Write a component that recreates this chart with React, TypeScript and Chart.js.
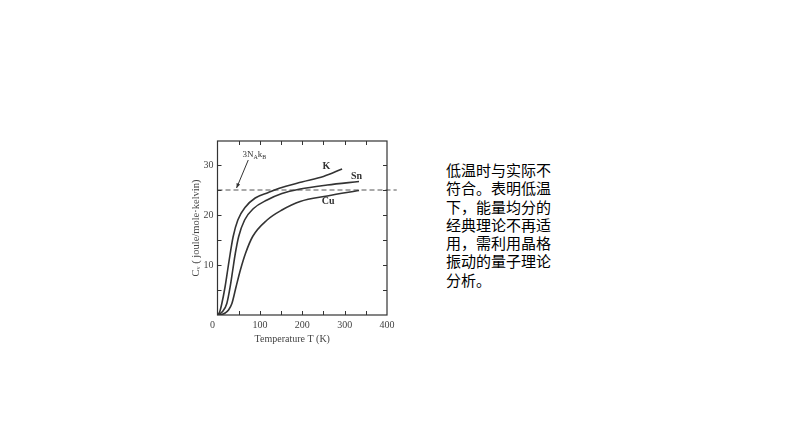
import { useEffect, useRef } from 'react';
import { Chart, registerables, Plugin } from 'chart.js';

Chart.register(...registerables);

// Molar heat capacity C_v (J/mol·K) versus temperature T (K)
const kTemp = [0, 5, 10, 18, 24, 30, 37, 48, 66, 89, 120, 144, 199, 250, 294];
const kCv = [0, 0.6, 2.2, 5.7, 9, 12.3, 15.7, 19, 21.6, 23.4, 24.5, 25.3, 26.6, 27.7, 29.2];
const snTemp = [0, 12, 22, 30, 36, 42, 50, 64, 85, 117, 152, 195, 259, 334];
const snCv = [0, 0.7, 2.3, 5.7, 9, 12.3, 15.7, 19, 21.3, 23, 24.3, 25.2, 26, 26.7];
const cuTemp = [0, 10, 18, 26, 34, 44, 54, 66, 83, 117, 152, 195, 259, 334];
const cuCv = [0, 0.1, 0.4, 1, 2.3, 5.7, 9, 12.3, 15.7, 19, 21, 22.7, 23.8, 24.9];
// classical limit 3N_A k_B
const limitTemp = [0, 423];
const limitCv = [25, 25];

const seriesNames = ['K', 'Sn', 'Cu'];

const noteLines = [
  '低温时与实际不',
  '符合。表明低温',
  '下，能量均分的',
  '经典理论不再适',
  '用，需利用晶格',
  '振动的量子理论',
  '分析。',
];

const ink = '#333';
const textInk = '#444';
const serif = '"Liberation Serif", "DejaVu Serif", serif';

const toPoints = (xs: number[], ys: number[]) => xs.map((x, i) => ({ x, y: ys[i] }));

// frame with inward ticks on all four sides, curve names and the 3NAkB arrow
const decorations: Plugin = {
  id: 'decorations',
  afterDraw(chart) {
    const { ctx, chartArea: a } = chart;
    const sx = chart.scales.x;
    const sy = chart.scales.y;
    ctx.save();
    ctx.strokeStyle = ink;
    ctx.lineWidth = 1.2;
    ctx.strokeRect(a.left, a.top, a.right - a.left, a.bottom - a.top);
    ctx.lineWidth = 1;
    ctx.beginPath();
    sx.ticks.forEach((t) => {
      if (t.value <= 0 || t.value >= 400) return;
      const x = Math.round(sx.getPixelForValue(t.value)) + 0.5;
      ctx.moveTo(x, a.bottom);
      ctx.lineTo(x, a.bottom - 4);
      ctx.moveTo(x, a.top);
      ctx.lineTo(x, a.top + 4);
    });
    sy.ticks.forEach((t) => {
      if (t.value <= 0 || t.value > 34) return;
      const y = Math.round(sy.getPixelForValue(t.value)) + 0.5;
      ctx.moveTo(a.left, y);
      ctx.lineTo(a.left + 4, y);
      ctx.moveTo(a.right, y);
      ctx.lineTo(a.right - 4, y);
    });
    ctx.stroke();

    // curve names
    ctx.fillStyle = ink;
    ctx.font = `bold 10px ${serif}`;
    ctx.textAlign = 'center';
    ctx.textBaseline = 'middle';
    const namePos = [[257, 29.7], [328, 27.7], [261, 22.7]];
    seriesNames.forEach((n, i) => {
      ctx.fillText(n, sx.getPixelForValue(namePos[i][0]), sy.getPixelForValue(namePos[i][1]));
    });

    // 3 N_A k_B label
    const lx = sx.getPixelForValue(59);
    const ly = sy.getPixelForValue(32.2);
    ctx.textAlign = 'left';
    ctx.textBaseline = 'alphabetic';
    ctx.font = `9px ${serif}`;
    let cx = lx;
    ctx.fillText('3N', cx, ly + 3);
    cx += ctx.measureText('3N').width;
    ctx.font = `6px ${serif}`;
    ctx.fillText('A', cx, ly + 5);
    cx += ctx.measureText('A').width;
    ctx.font = `9px ${serif}`;
    ctx.fillText('k', cx, ly + 3);
    cx += ctx.measureText('k').width;
    ctx.font = `6px ${serif}`;
    ctx.fillText('B', cx, ly + 5);

    // arrow
    const x0 = sx.getPixelForValue(72.6);
    const y0 = sy.getPixelForValue(31);
    const x1 = sx.getPixelForValue(45);
    const y1 = sy.getPixelForValue(25.4);
    ctx.beginPath();
    ctx.moveTo(x0, y0);
    ctx.lineTo(x1, y1);
    ctx.stroke();
    const ang = Math.atan2(y1 - y0, x1 - x0);
    ctx.beginPath();
    ctx.moveTo(x1, y1);
    ctx.lineTo(x1 - 5 * Math.cos(ang - 0.4), y1 - 5 * Math.sin(ang - 0.4));
    ctx.lineTo(x1 - 5 * Math.cos(ang + 0.4), y1 - 5 * Math.sin(ang + 0.4));
    ctx.closePath();
    ctx.fill();
    ctx.restore();
  },
};

function HeatCapacityChart() {
  const canvasRef = useRef<HTMLCanvasElement>(null);
  const chartRef = useRef<Chart | null>(null);

  useEffect(() => {
    if (!canvasRef.current) return;
    if (chartRef.current) chartRef.current.destroy();

    const curve = (label: string, xs: number[], ys: number[]) => ({
      label,
      data: toPoints(xs, ys),
      showLine: true,
      borderColor: ink,
      borderWidth: 1.6,
      pointRadius: 0,
      cubicInterpolationMode: 'monotone' as const,
    });

    chartRef.current = new Chart(canvasRef.current, {
      type: 'scatter',
      data: {
        datasets: [
          curve(seriesNames[0], kTemp, kCv),
          curve(seriesNames[1], snTemp, snCv),
          curve(seriesNames[2], cuTemp, cuCv),
          {
            label: '3NAkB',
            data: toPoints(limitTemp, limitCv),
            showLine: true,
            borderColor: '#555',
            borderWidth: 1,
            borderDash: [5, 3],
            pointRadius: 0,
            clip: false,
          },
        ],
      },
      options: {
        animation: false,
        responsive: true,
        maintainAspectRatio: false,
        layout: { padding: { top: 11, right: 23, left: 0, bottom: 0 } },
        plugins: { legend: { display: false }, tooltip: { enabled: false } },
        scales: {
          x: {
            type: 'linear',
            min: 0,
            max: 400,
            afterFit: (s) => { s.height = 40; },
            grid: { display: false, drawTicks: false, tickLength: 0 },
            border: { display: false },
            ticks: {
              stepSize: 50,
              autoSkip: false,
              maxRotation: 0,
              padding: 4,
              color: textInk,
              font: { family: serif, size: 10 },
              callback: (v) => {
                const n = Number(v);
                if (n % 100 !== 0) return '';
                return n === 0 ? '0\u2002\u2002' : String(n);
              },
            },
            title: {
              display: true,
              text: 'Temperature T (K)\u2002\u2002\u2002\u2002',
              color: textInk,
              font: { family: serif, size: 10 },
              padding: { top: 0, bottom: 10 },
            },
          },
          y: {
            type: 'linear',
            min: 0,
            max: 34.8,
            afterFit: (s) => { s.width = 47.5; },
            grid: { display: false, drawTicks: false, tickLength: 0 },
            border: { display: false },
            ticks: {
              stepSize: 5,
              includeBounds: false,
              autoSkip: false,
              padding: 4,
              color: textInk,
              font: { family: serif, size: 10 },
              callback: (v) => {
                const n = Number(v);
                return n > 0 && n % 10 === 0 ? String(n) : '';
              },
            },
            title: {
              display: true,
              text: 'Cᵥ ( joule/mole·kelvin)',
              color: textInk,
              font: { family: serif, size: 10.5 },
              padding: { top: 20, bottom: 0 },
            },
          },
        },
      },
      plugins: [decorations],
    });

    return () => {
      if (chartRef.current) {
        chartRef.current.destroy();
        chartRef.current = null;
      }
    };
  }, []);

  return (
    <div style={{ position: 'absolute', left: 170, top: 130, width: 240, height: 225 }}>
      <canvas ref={canvasRef} />
    </div>
  );
}

export default function App() {
  return (
    <div style={{ position: 'absolute', left: 0, top: 0, width: 794, height: 447, background: '#fff', overflow: 'hidden' }}>
      <HeatCapacityChart />
      <div
        style={{
          position: 'absolute',
          left: 446,
          top: 162,
          fontFamily: '"Liberation Sans", "Noto Sans CJK SC", sans-serif',
          fontSize: 15,
          lineHeight: '18.3px',
          color: '#000',
          whiteSpace: 'nowrap',
        }}
      >
        {noteLines.map((l) => (
          <div key={l}>{l}</div>
        ))}
      </div>
    </div>
  );
}
